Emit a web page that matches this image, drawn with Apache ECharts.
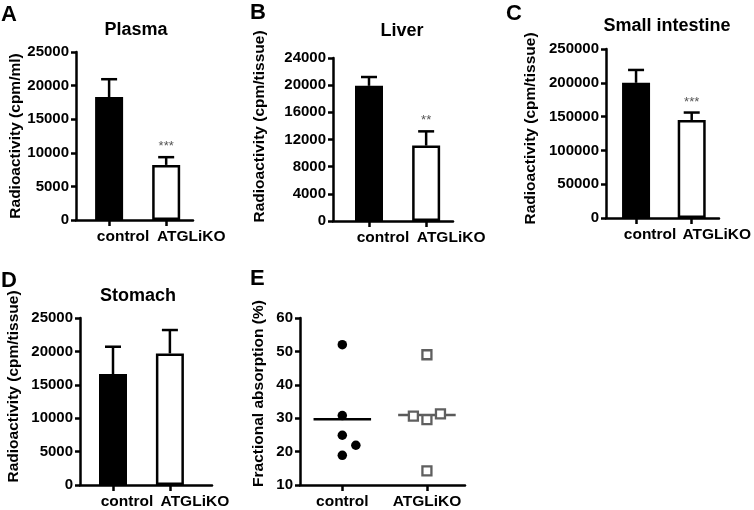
<!DOCTYPE html>
<html>
<head>
<meta charset="utf-8">
<script src="https://cdn.jsdelivr.net/npm/echarts@6/dist/echarts.min.js"></script>
<style>
  html, body { margin: 0; background: #fff; }
  #chart { width: 754px; height: 510px; }
</style>
</head>
<body>
<div id="chart"></div>
<script>
const groups = ["control", "ATGLiKO"]

// bar panels: mean + SEM
const plasmaMean = [18300, 8200]
const plasmaSem = [2650, 1150]
const plasmaSig = ["", "***"]

const liverMean = [19900, 11100]
const liverSem = [1300, 2100]
const liverSig = ["", "**"]

const intestineMean = [200000, 145000]
const intestineSem = [19000, 11000]
const intestineSig = ["", "***"]

const stomachMean = [16600, 19700]
const stomachSem = [4100, 3500]
const stomachSig = ["", ""]

// fractional absorption (%), one value per animal
const absControl = [52, 30.8, 24.9, 21.9, 18.9]
const absKo = [49, 30.6, 29.6, 31.3, 14.2]
// horizontal scatter offset of each point
const jitterControl = [0, 0, 0, 0.16, 0]
const jitterKo = [0, -0.16, 0, 0.16, 0]

const FONT = "'Liberation Sans', Arial, sans-serif"
const axisStyle = { color: "#000", width: 2.5 }

const mean = (arr) => arr.reduce((a, b) => a + b, 0) / arr.length

// 面板布局
const panels = [
  { grid: { left: 76, top: 52, width: 117, height: 168 }, xMin: 0.42, xMax: 2.47, yMin: 0, yMax: 25000, yInt: 5000,
    name: "Radioactivity (cpm/ml)", nameGap: 48, shift: 0, bars: true },
  { grid: { left: 333, top: 58, width: 120, height: 163 }, xMin: 0.37, xMax: 2.47, yMin: 0, yMax: 24000, yInt: 4000,
    name: "Radioactivity (cpm/tissue)", nameGap: 65, shift: 26, bars: true },
  { grid: { left: 606, top: 49, width: 116, height: 169 }, xMin: 0.46, xMax: 2.49, yMin: 0, yMax: 250000, yInt: 50000,
    name: "Radioactivity (cpm/tissue)", nameGap: 67, shift: 10, bars: true },
  { grid: { left: 80, top: 318, width: 132, height: 170 }, xMin: 0.42, xMax: 2.74, yMin: 0, yMax: 25000, yInt: 5000,
    name: "Radioactivity (cpm/tissue)", nameGap: 58, shift: 30, bars: true },
  { grid: { left: 300, top: 318, width: 165, height: 168 }, xMin: 0.5, xMax: 2.45, yMin: 10, yMax: 60, yInt: 10,
    name: "Fractional absorption (%)", nameGap: 33, shift: 16, bars: false },
]

const labelText = { fontFamily: FONT, fontWeight: "bold", fontSize: 15.5, color: "#000" }

const xAxis = panels.map((p, i) => ({
  gridIndex: i,
  type: "value",
  min: p.xMin,
  max: p.xMax,
  axisLine: { show: true, onZero: false, lineStyle: axisStyle },
  axisTick: { show: true, customValues: [1, 2], length: 6, lineStyle: axisStyle },
  axisLabel: {
    customValues: [1, 2],
    margin: 9,
    ...labelText,
    formatter: (v) => {
      const k = Math.round(v) - 1
      if (!p.bars) return groups[k]
      return k === 0 ? "{c|" + groups[k] + "}" : "{k|" + groups[k] + "}"
    },
    rich: {
      c: { ...labelText, padding: [0, 0, 0, 28] },
      k: { ...labelText, padding: [0, 0, 0, 50] },
    },
  },
  splitLine: { show: false },
}))

const yAxis = panels.map((p, i) => ({
  gridIndex: i,
  type: "value",
  min: p.yMin,
  max: p.yMax,
  interval: p.yInt,
  axisLine: { show: true, lineStyle: axisStyle },
  axisTick: { show: true, length: 5, lineStyle: axisStyle },
  axisLabel: {
    margin: 7,
    fontFamily: FONT,
    fontWeight: "bold",
    fontSize: 15,
    color: "#000",
    formatter: (v) => String(v),
  },
  splitLine: { show: false },
  name: p.name,
  nameLocation: "middle",
  nameRotate: 90,
  nameGap: p.nameGap,
  nameTextStyle: { fontFamily: FONT, fontWeight: "bold", fontSize: 15.5, color: "#000", padding: [0, 0, 0, p.shift] },
}))

// 误差线
const errorBar = (sig) => (params, api) => {
  const x = api.value(0)
  const top = api.coord([x, api.value(1)])
  const end = api.coord([x, api.value(1) + api.value(2)])
  const style = { stroke: "#000", lineWidth: 2.5 }
  const children = [
    { type: "line", shape: { x1: top[0], y1: top[1], x2: end[0], y2: end[1] }, style },
    { type: "line", shape: { x1: end[0] - 8, y1: end[1], x2: end[0] + 8, y2: end[1] }, style },
  ]
  const s = sig[params.dataIndex]
  if (s) {
    children.push({
      type: "text",
      x: end[0],
      y: end[1] - 4,
      style: { text: s, align: "center", verticalAlign: "bottom", font: "13px " + FONT, fill: "#555" },
    })
  }
  return { type: "group", children }
}

const barSet = [
  [plasmaMean, plasmaSem, plasmaSig],
  [liverMean, liverSem, liverSig],
  [intestineMean, intestineSem, intestineSig],
  [stomachMean, stomachSem, stomachSig],
]

const series = []
barSet.forEach(([m, s, sig], i) => {
  series.push({
    type: "bar",
    xAxisIndex: i,
    yAxisIndex: i,
    barWidth: 28,
    data: groups.map((g, k) => ({
      value: [k + 1, m[k]],
      itemStyle: { color: k === 0 ? "#000" : "#fff", borderColor: "#000", borderWidth: 2.5 },
    })),
    z: 2,
  })
  series.push({
    type: "custom",
    xAxisIndex: i,
    yAxisIndex: i,
    renderItem: errorBar(sig),
    encode: { x: 0, y: 1 },
    data: groups.map((g, k) => [k + 1, m[k], s[k]]),
    z: 3,
  })
})

// panel E
const meanLine = (x, vals, color) => ({
  type: "line",
  xAxisIndex: 4,
  yAxisIndex: 4,
  symbol: "none",
  lineStyle: { color, width: 2.5 },
  data: [[x - 0.34, mean(vals)], [x + 0.34, mean(vals)]],
  z: 2,
})
series.push(meanLine(1, absControl, "#000"))
series.push(meanLine(2, absKo, "#5a5a5a"))
series.push({
  type: "scatter",
  xAxisIndex: 4,
  yAxisIndex: 4,
  symbol: "circle",
  symbolSize: 9.5,
  itemStyle: { color: "#000", opacity: 1 },
  data: absControl.map((v, k) => [1 + jitterControl[k], v]),
  z: 3,
})
series.push({
  type: "scatter",
  xAxisIndex: 4,
  yAxisIndex: 4,
  symbol: "rect",
  symbolSize: 9,
  itemStyle: { color: "#fff", borderColor: "#5f5f5f", borderWidth: 2.3, opacity: 1 },
  data: absKo.map((v, k) => [2 + jitterKo[k], v]),
  z: 3,
})

const txt = (text, x, y, size, align) => ({
  type: "text",
  x,
  y,
  style: { text, align, verticalAlign: "middle", font: "bold " + size + "px " + FONT, fill: "#000" },
})

const option = {
  animation: false,
  backgroundColor: "#fff",
  grid: panels.map((p) => p.grid),
  xAxis,
  yAxis,
  series,
  graphic: [
    txt("A", 1, 15, 22, "left"),
    txt("B", 250, 13, 22, "left"),
    txt("C", 506, 14, 22, "left"),
    txt("D", 1, 281, 22, "left"),
    txt("E", 250, 279, 22, "left"),
    txt("Plasma", 136, 30, 18, "center"),
    txt("Liver", 402, 31, 18, "center"),
    txt("Small intestine", 667, 26, 18, "center"),
    txt("Stomach", 138, 296, 18, "center"),
  ],
}

const myChart = echarts.init(document.getElementById("chart"))
myChart.setOption(option)
</script>
</body>
</html>
